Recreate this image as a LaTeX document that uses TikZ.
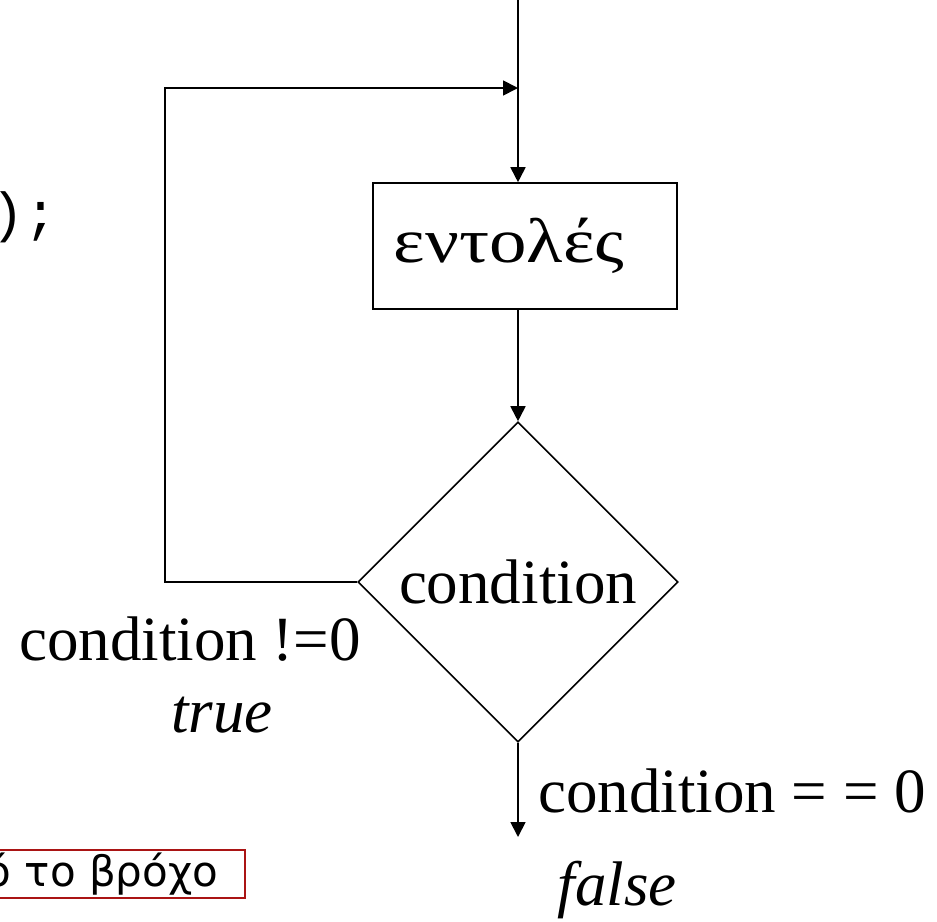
\documentclass[tikz,border=0pt]{standalone}
\usepackage{fontspec}
\setmainfont{Liberation Serif}
\newfontfamily\codefont{Liberation Mono}
\newfontfamily\notefont{DejaVu Sans}
\newfontfamily\widegreek[FakeStretch=1.19]{Liberation Serif}
\usetikzlibrary{arrows.meta,shapes.geometric}
\definecolor{noteborder}{RGB}{170,20,20}
\tikzset{
  flow/.style={line width=1.8pt},
  arr/.style={flow,-{Triangle[length=15pt,width=15pt]}},
  stmtbox/.style={draw,line width=1.6pt,minimum width=304pt,minimum height=126pt,inner sep=0pt,font=\widegreek\fontsize{63}{70}\selectfont},
  testbox/.style={draw,diamond,aspect=1,line width=1.6pt,minimum width=320pt,minimum height=320pt,inner sep=0pt,font=\fontsize{63}{70}\selectfont},
  lbl/.style={inner sep=0pt,font=\fontsize{63}{70}\selectfont},
  notebox/.style={draw=noteborder,line width=1.6pt,inner sep=0pt,font=\notefont\fontsize{42}{48}\selectfont}
}
\begin{document}
\begin{tikzpicture}[x=1pt,y=-1pt]
\useasboundingbox (0,0) rectangle (937,921);

% tail of the code line on the left
\node[inner sep=0pt,anchor=base west,font=\codefont\fontsize{55}{60}\selectfont] (code) at (-9,231) {);};

% flowchart of the do-while loop
\coordinate (top) at (518,0);
\coordinate (join) at (518,88);
\node[stmtbox] (cmd) at (525,246) {εντολές\hspace*{32pt}};
\node[testbox] (dia) at (518,582) {condition};
\coordinate (out) at (518,837);

\draw[arr] (top) -- (top |- cmd.north);
\draw[arr] (top |- cmd.south) -- (dia.north);
\draw[arr] (dia.west) -- ++(-192,0) |- (join);
\draw[arr] (dia.south) -- (out);

% branch labels
\node[lbl,anchor=base east] (ttxt) at (361,660) {condition !=0};
\node[lbl,anchor=base] (tval) at (222,732) {\itshape true};
\node[lbl,anchor=base west] (ftxt) at (538,812) {condition = = 0};
\node[lbl,anchor=base] (fval) at (617,905) {\itshape false};

% note box at the bottom left
\node[notebox,anchor=east,minimum height=48pt] (note) at (246,874) {\rule{40pt}{0pt}ό το βρόχο\rule{27pt}{0pt}};
\end{tikzpicture}
\end{document}
